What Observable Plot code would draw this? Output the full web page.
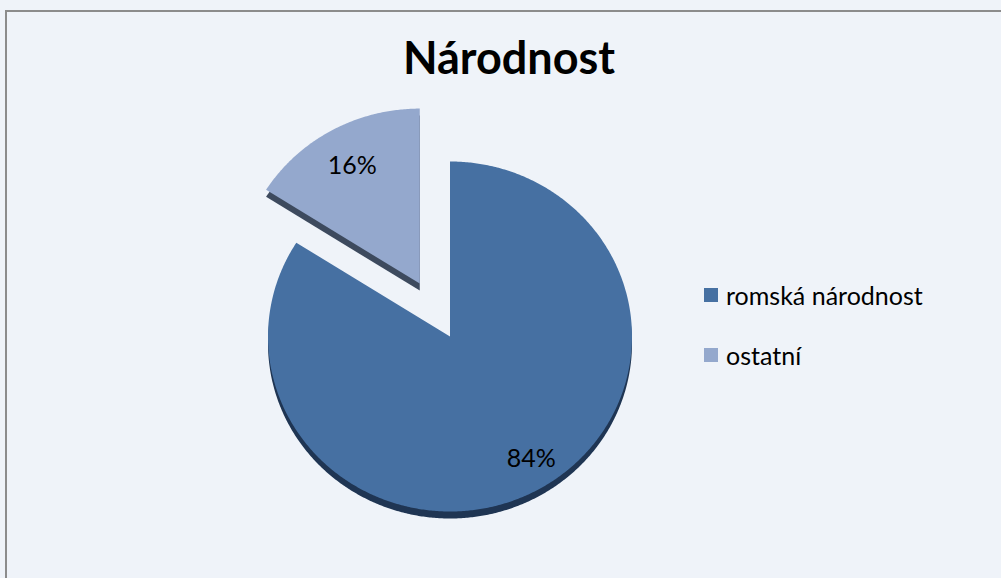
<!DOCTYPE html>
<html>
<head>
<meta charset="utf-8">
<script src="https://cdn.jsdelivr.net/npm/d3@7"></script>
<script src="https://cdn.jsdelivr.net/npm/@observablehq/plot@0.6"></script>
<style>
  html, body { margin: 0; padding: 0; background: #eff3f9; }
  #wrap { position: relative; width: 1001px; height: 578px; overflow: hidden; background: #eff3f9;
          font-family: Lato, "Open Sans", sans-serif; }
  #frame { position: absolute; left: 5px; top: 10px; width: 1100px; height: 700px;
           border-left: 2px solid #8c8c8c; border-top: 2px solid #8c8c8c; box-sizing: border-box; }
  #title { position: absolute; left: 509px; top: 35px; transform: translateX(-50%);
           font-size: 45px; line-height: 45px; font-weight: bold; color: #000; white-space: nowrap; }
  #chart { position: absolute; left: 0; top: 0; }
  #legend { position: absolute; left: 704px; top: 280px; }
  .item { display: flex; align-items: center; height: 30px; margin-bottom: 30px; }
  .sw { width: 14px; height: 14px; margin-right: 8px; flex: none; }
  .lab { font-size: 25px; line-height: 30px; color: #000; white-space: nowrap; }
</style>
</head>
<body>
<div id="wrap">
  <div id="frame"></div>
  <div id="chart"></div>
  <div id="title"></div>
  <div id="legend"></div>
</div>
<script>
// ---- data ----
const title = "Národnost";
const categories = ["romská národnost", "ostatní"];
const values = [84, 16];
const labels = ["84%", "16%"];
const exploded = [false, true];

// ---- styles ----
const topColors = ["#4670a2", "#94a8cd"];
const sideColors = ["#1f3553", "#3d4a5e"];

// ---- layout ----
const W = 1001, H = 578;
const cx = 449.5, cy = 336, rx = 182, ry = 175;
const explodeDist = 0.345;
const depth = 7 / ry;
const labelR = [0.8, 0.77];
const labelDx = [11, 0];

const rows = categories.map((c, i) => ({cat: c, value: values[i], label: labels[i], i}));
const arcs = d3.pie().sort(null).value(d => d.value)(rows);

const tops = [], sides = [], labelPts = [];
arcs.forEach(a => {
  const i = a.data.i;
  const mid = (a.startAngle + a.endAngle) / 2;
  const ox = exploded[i] ? explodeDist * Math.sin(mid) : 0;
  const oy = exploded[i] ? explodeDist * Math.cos(mid) : 0;
  const n = Math.max(2, Math.ceil((a.endAngle - a.startAngle) / (Math.PI / 360)));
  const pts = [{x: ox, y: oy}];
  for (let k = 0; k <= n; k++) {
    const t = a.startAngle + (a.endAngle - a.startAngle) * k / n;
    pts.push({x: ox + Math.sin(t), y: oy + Math.cos(t)});
  }
  pts.forEach(p => {
    tops.push({...p, id: i});
    sides.push({x: p.x, y: p.y - depth, id: i});
  });
  labelPts.push({x: ox + labelR[i] * Math.sin(mid), y: oy + labelR[i] * Math.cos(mid), text: a.data.label, id: i});
});

const marks = [];
[0, 1].forEach(i => {
  marks.push(Plot.line(sides.filter(d => d.id === i), {x: "x", y: "y", fill: sideColors[i], stroke: null, curve: "linear-closed"}));
  marks.push(Plot.line(tops.filter(d => d.id === i), {x: "x", y: "y", fill: topColors[i], stroke: null, curve: "linear-closed"}));
});
[0, 1].forEach(i => {
  marks.push(Plot.text(labelPts.filter(d => d.id === i), {x: "x", y: "y", text: "text", dx: labelDx[i],
    fontSize: 25, fill: "#000", fontFamily: "Lato, 'Open Sans', sans-serif"}));
});

const plot = Plot.plot({
  width: W, height: H, margin: 0,
  x: {domain: [-cx / rx, (W - cx) / rx], range: [0, W], axis: null},
  y: {domain: [-(H - cy) / ry, cy / ry], range: [H, 0], axis: null},
  style: {background: "transparent"},
  marks
});
document.getElementById("chart").appendChild(plot);
document.getElementById("title").textContent = title;

const leg = document.getElementById("legend");
categories.forEach((c, i) => {
  const it = document.createElement("div");
  it.className = "item";
  const sw = document.createElement("span");
  sw.className = "sw";
  sw.style.background = topColors[i];
  const lb = document.createElement("span");
  lb.className = "lab";
  lb.textContent = c;
  it.appendChild(sw); it.appendChild(lb);
  leg.appendChild(it);
});
</script>
</body>
</html>
